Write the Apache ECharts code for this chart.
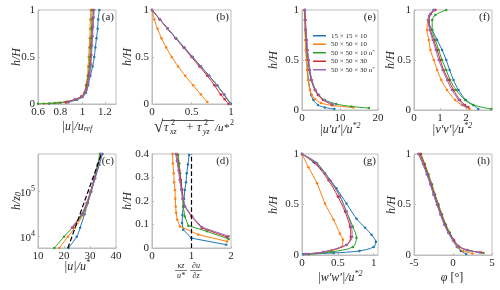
<!DOCTYPE html>
<html><head><meta charset="utf-8">
<script src="https://cdn.jsdelivr.net/npm/echarts@6/dist/echarts.min.js"></script>
<style>html,body{margin:0;padding:0;background:#fff}#c{width:500px;height:290px}</style>
</head><body><div id="c"></div>
<script>
const FONT = "'Liberation Serif', 'DejaVu Serif', serif";
const seriesNames = ['15 × 15 × 10', '50 × 50 × 10', '50 × 50 × 10 u*', '50 × 50 × 30', '50 × 50 × 30 u*'];
const seriesColors = ['#1f77b4', '#ff7f0e', '#2ca02c', '#d62728', '#9467bd'];

// (a) |u|/u_ref vs h/H  : [x, h]
const a_blue = [[0.7,0.004],[0.8,0.012],[0.88,0.025],[0.95,0.045],[1.0,0.075],[1.03,0.12],[1.05,0.2],[1.07,0.3],[1.09,0.4],[1.105,0.5],[1.115,0.6],[1.125,0.7],[1.135,0.8],[1.14,0.9],[1.15,1.0]];
const a_orange = [[0.65,0.004],[0.78,0.012],[0.87,0.025],[0.94,0.045],[0.99,0.075],[1.015,0.12],[1.03,0.2],[1.045,0.3],[1.05,0.4],[1.055,0.5],[1.06,0.6],[1.065,0.7],[1.068,0.8],[1.07,0.9],[1.073,1.0]];
const a_green = [[0.6,0.002],[0.75,0.01],[0.86,0.025],[0.94,0.045],[0.99,0.075],[1.02,0.12],[1.035,0.2],[1.05,0.3],[1.06,0.4],[1.065,0.5],[1.07,0.6],[1.075,0.7],[1.08,0.8],[1.083,0.9],[1.085,1.0]];
const a_red = [[0.85,0.017],[0.93,0.05],[0.99,0.083],[1.03,0.15],[1.045,0.22],[1.06,0.32],[1.07,0.42],[1.075,0.52],[1.08,0.62],[1.085,0.72],[1.09,0.82],[1.095,0.92],[1.097,1.0]];
const a_purple = [[0.87,0.017],[0.94,0.05],[1.0,0.083],[1.035,0.15],[1.05,0.22],[1.065,0.32],[1.075,0.42],[1.08,0.52],[1.085,0.62],[1.09,0.72],[1.095,0.82],[1.1,0.92],[1.105,1.0]];

// (b) total stress
const b_blue = [[1.0,0.0],[0.915,0.1],[0.825,0.2],[0.725,0.3],[0.62,0.4],[0.515,0.5],[0.41,0.6],[0.305,0.7],[0.2,0.8],[0.1,0.9],[0.0,1.0]];
const b_orange = [[0.70,0.02],[0.62,0.1],[0.52,0.2],[0.42,0.3],[0.33,0.4],[0.25,0.5],[0.18,0.6],[0.12,0.7],[0.07,0.8],[0.03,0.9],[0.0,1.0]];
const b_green = [[0.995,0.0],[0.912,0.1],[0.822,0.2],[0.722,0.3],[0.618,0.4],[0.513,0.5],[0.408,0.6],[0.303,0.7],[0.2,0.8],[0.1,0.9],[0.0,1.0]];
const b_red = [[0.97,0.0],[0.92,0.05],[0.87,0.1],[0.79,0.2],[0.7,0.3],[0.6,0.4],[0.5,0.5],[0.4,0.6],[0.3,0.7],[0.2,0.8],[0.1,0.9],[0.0,1.0]];
const b_purple = [[0.99,0.0],[0.91,0.1],[0.82,0.2],[0.72,0.3],[0.615,0.4],[0.51,0.5],[0.405,0.6],[0.3,0.7],[0.198,0.8],[0.098,0.9],[0.0,1.0]];

// (c) |u|/u* vs h/z0 (log)
const c_blue = [[21.7,5600],[24.9,10000],[26.2,15850],[27.9,31600],[29.2,56000],[30.5,100000],[32.0,200000],[33.6,400000],[34.8,690000]];
const c_orange = [[18.2,5600],[21.5,10000],[24.2,15850],[27.4,31600],[29.0,56000],[30.3,100000],[31.7,200000],[33.0,400000],[34.0,690000]];
const c_green = [[16.3,5600],[20.0,10000],[23.2,15850],[27.2,31600],[28.9,56000],[30.2,100000],[31.6,200000],[32.9,400000],[33.8,690000]];
const c_red = [[23.3,15850],[26.9,31600],[28.8,56000],[30.3,100000],[31.8,200000],[33.2,400000],[34.2,690000]];
const c_purple = [[23.0,15850],[26.7,31600],[28.7,56000],[30.2,100000],[31.8,200000],[33.2,400000],[34.3,690000]];
const c_logLaw = [[21.5,5600],[34.4,690000]];

// (d) kz/u* du/dz vs h/H
const d_blue = [[1.88,0.014],[1.0,0.042],[0.79,0.078],[0.76,0.106],[0.77,0.14],[0.79,0.177],[0.81,0.21],[0.83,0.247],[0.86,0.28],[0.88,0.318],[0.91,0.355],[0.94,0.396]];
const d_orange = [[1.9,0.028],[1.17,0.057],[0.71,0.092],[0.64,0.12],[0.61,0.15],[0.6,0.177],[0.59,0.21],[0.58,0.247],[0.56,0.28],[0.55,0.318],[0.53,0.36],[0.52,0.4]];
const d_green = [[1.94,0.038],[1.39,0.071],[0.92,0.095],[0.83,0.134],[0.79,0.177],[0.77,0.21],[0.75,0.247],[0.73,0.28],[0.71,0.318],[0.69,0.36],[0.66,0.396]];
const d_red = [[1.9,0.047],[1.26,0.085],[1.0,0.134],[0.83,0.177],[0.79,0.21],[0.76,0.25],[0.73,0.29],[0.69,0.33],[0.65,0.37],[0.62,0.4]];
const d_purple = [[1.94,0.05],[1.26,0.089],[1.02,0.134],[0.84,0.177],[0.78,0.21],[0.74,0.25],[0.7,0.29],[0.67,0.33],[0.63,0.37],[0.6,0.4]];
const d_unity = [[1,0],[1,0.4]];

// (e) |u'u'|/u*^2
const e_blue = [[8.5,0.01],[6,0.025],[4.2,0.05],[3.0,0.1],[2.4,0.15],[2.1,0.2],[1.7,0.3],[1.45,0.4],[1.25,0.5],[1.1,0.6],[0.95,0.7],[0.85,0.8],[0.75,0.9],[0.65,1.0]];
const e_orange = [[13.5,0.025],[8,0.045],[5,0.07],[3.4,0.11],[2.6,0.15],[2.1,0.2],[1.6,0.3],[1.35,0.4],[1.15,0.5],[1.0,0.6],[0.9,0.7],[0.8,0.8],[0.7,0.9],[0.6,1.0]];
const e_green = [[17.6,0.02],[13,0.035],[9,0.06],[6,0.1],[4.4,0.15],[3.4,0.2],[2.4,0.3],[1.9,0.4],[1.6,0.5],[1.35,0.6],[1.15,0.7],[1.0,0.8],[0.9,0.9],[0.8,1.0]];
const e_red = [[7.8,0.055],[5.5,0.1],[4.2,0.15],[3.4,0.2],[2.5,0.3],[2.0,0.4],[1.7,0.5],[1.4,0.6],[1.2,0.7],[1.0,0.8],[0.85,0.9],[0.7,1.0]];
const e_purple = [[8.2,0.055],[5.8,0.1],[4.5,0.15],[3.6,0.2],[2.6,0.3],[2.1,0.4],[1.75,0.5],[1.45,0.6],[1.25,0.7],[1.05,0.8],[0.9,0.9],[0.75,1.0]];

// (f) |v'v'|/u*^2
const f_blue = [[2.47,0.01],[2.28,0.05],[2.0,0.1],[1.71,0.2],[1.52,0.3],[1.37,0.4],[1.24,0.5],[1.08,0.6],[0.89,0.7],[0.7,0.8],[0.57,0.88],[0.58,0.94],[0.75,1.0]];
const f_orange = [[2.13,0.01],[1.84,0.05],[1.58,0.1],[1.27,0.2],[1.05,0.3],[0.89,0.4],[0.76,0.5],[0.63,0.6],[0.57,0.7],[0.5,0.8],[0.53,0.9],[0.62,0.96],[0.82,1.0]];
const f_green = [[2.97,0.01],[2.28,0.05],[1.96,0.1],[1.62,0.2],[1.39,0.3],[1.24,0.4],[1.08,0.5],[0.95,0.6],[0.82,0.7],[0.7,0.8],[0.7,0.9],[0.82,0.95],[1.24,1.0]];
const f_red = [[2.09,0.03],[1.96,0.05],[1.77,0.1],[1.52,0.2],[1.33,0.3],[1.14,0.4],[1.01,0.5],[0.89,0.6],[0.76,0.7],[0.63,0.8],[0.57,0.9],[0.65,0.96],[0.82,1.0]];
const f_purple = [[2.02,0.03],[1.9,0.05],[1.72,0.1],[1.46,0.2],[1.27,0.3],[1.1,0.4],[0.95,0.5],[0.84,0.6],[0.72,0.7],[0.6,0.8],[0.55,0.9],[0.62,0.96],[0.78,1.0]];

// (g) |w'w'|/u*^2
const g_blue = [[0.02,0.007],[0.44,0.02],[0.8,0.04],[1.0,0.08],[1.03,0.13],[0.97,0.2],[0.88,0.27],[0.76,0.36],[0.62,0.51],[0.48,0.66],[0.32,0.81],[0.16,0.92],[0.0,1.0]];
const g_orange = [[0.09,0.01],[0.39,0.04],[0.55,0.08],[0.57,0.15],[0.53,0.21],[0.44,0.35],[0.32,0.51],[0.21,0.71],[0.09,0.87],[0.0,1.0]];
const g_green = [[0.09,0.007],[0.41,0.03],[0.71,0.08],[0.76,0.17],[0.71,0.28],[0.62,0.43],[0.53,0.58],[0.39,0.74],[0.21,0.91],[0.0,1.0]];
const g_red = [[0.05,0.01],[0.3,0.03],[0.62,0.1],[0.68,0.18],[0.67,0.28],[0.6,0.43],[0.5,0.58],[0.37,0.74],[0.18,0.91],[0.0,1.0]];
const g_purple = [[0.05,0.01],[0.3,0.03],[0.62,0.1],[0.7,0.18],[0.69,0.28],[0.62,0.43],[0.53,0.58],[0.39,0.74],[0.2,0.91],[0.0,1.0]];

// (h) phi [deg]
const h_blue = [[1.7,0.01],[1.0,0.04],[0.5,0.08],[0.0,0.14],[-0.6,0.22],[-1.1,0.3],[-1.6,0.4],[-2.05,0.5],[-2.5,0.6],[-2.9,0.7],[-3.35,0.8],[-3.85,0.9],[-4.4,1.0]];
const h_orange = [[2.5,0.015],[1.3,0.04],[0.6,0.08],[0.05,0.14],[-0.5,0.22],[-1.0,0.3],[-1.5,0.4],[-1.95,0.5],[-2.4,0.6],[-2.8,0.7],[-3.25,0.8],[-3.75,0.9],[-4.3,1.0]];
const h_green = [[3.9,0.02],[2.0,0.045],[0.8,0.08],[0.15,0.14],[-0.4,0.22],[-0.9,0.3],[-1.4,0.4],[-1.85,0.5],[-2.3,0.6],[-2.7,0.7],[-3.15,0.8],[-3.6,0.9],[-4.1,1.0]];
const h_red = [[3.6,0.025],[1.8,0.05],[0.7,0.09],[0.1,0.15],[-0.5,0.22],[-1.0,0.3],[-1.5,0.4],[-1.95,0.5],[-2.4,0.6],[-2.8,0.7],[-3.25,0.8],[-3.7,0.9],[-4.2,1.0]];
const h_purple = [[3.4,0.025],[1.7,0.05],[0.6,0.09],[0.0,0.15],[-0.6,0.22],[-1.1,0.3],[-1.6,0.4],[-2.05,0.5],[-2.5,0.6],[-2.9,0.7],[-3.35,0.8],[-3.85,0.9],[-4.45,1.0]];

const panels = [
  {lab:'(a)', g:{left:38,top:10,width:78,height:94}, x:{min:0.6,max:1.3,interval:0.2,hideMax:true}, y:{min:0,max:1,interval:0.5}, d:[a_blue,a_orange,a_green,a_red,a_purple], smooth:0.3},
  {lab:'(b)', g:{left:152,top:10,width:79,height:94}, x:{min:0,max:1,interval:0.5}, y:{min:0,max:1,interval:0.5}, d:[b_blue,b_orange,b_green,b_red,b_purple], smooth:0.3},
  {lab:'(e)', g:{left:302,top:10,width:76,height:100}, x:{min:0,max:20,interval:10}, y:{min:0,max:1,interval:0.5}, d:[e_blue,e_orange,e_green,e_red,e_purple], smooth:0.3},
  {lab:'(f)', g:{left:414,top:10,width:78,height:100}, x:{min:0,max:3,interval:1,hideMax:true}, y:{min:0,max:1,interval:0.5}, d:[f_blue,f_orange,f_green,f_red,f_purple], smooth:0.3},
  {lab:'(c)', g:{left:38,top:154,width:78,height:94}, x:{min:10,max:40,interval:10}, y:{log:true,min:5600,max:690000}, d:[c_blue,c_orange,c_green,c_red,c_purple], smooth:0.3, extra:c_logLaw},
  {lab:'(d)', g:{left:152,top:154,width:79,height:94}, x:{min:0,max:2,interval:1}, y:{min:0,max:0.4,interval:0.1}, d:[d_blue,d_orange,d_green,d_red,d_purple], smooth:false, extra:d_unity},
  {lab:'(g)', g:{left:302,top:154,width:76,height:101}, x:{min:0,max:1.06,interval:0.5,hideMax:true}, y:{min:0,max:1,interval:0.5}, d:[g_blue,g_orange,g_green,g_red,g_purple], smooth:0.3},
  {lab:'(h)', g:{left:414,top:154,width:78,height:101}, x:{min:-5,max:5,interval:5}, y:{min:0,max:1,interval:0.5}, d:[h_blue,h_orange,h_green,h_red,h_purple], smooth:0.3}
];

const BOX = '#bdbdbd';
const TXT = '#262626';
const grids = [], xAxes = [], yAxes = [], series = [], graphics = [];

panels.forEach((p, i) => {
  grids.push(Object.assign({show:true, borderColor:BOX, borderWidth:1, containLabel:false}, p.g));
  xAxes.push({
    type:'value', gridIndex:i, min:p.x.min, max:p.x.max, interval:p.x.interval,
    axisLine:{show:true, onZero:false, lineStyle:{color:BOX}},
    axisTick:{show:true, inside:true, length:2, lineStyle:{color:BOX}},
    splitLine:{show:false},
    axisLabel:{fontFamily:FONT, fontSize:11, color:TXT, margin:3, showMaxLabel:!p.x.hideMax}
  });
  if (p.y.log) {
    yAxes.push({
      type:'log', logBase:10, gridIndex:i, min:p.y.min, max:p.y.max,
      axisLine:{show:true, lineStyle:{color:BOX}},
      axisTick:{show:true, inside:true, length:2, lineStyle:{color:BOX}},
      splitLine:{show:false}, minorTick:{show:false},
      axisLabel:{fontFamily:FONT, fontSize:11, color:TXT, margin:3, showMinLabel:false, showMaxLabel:false,
        formatter: v => '{b|10}{s|' + Math.round(Math.log10(v)) + '}',
        rich:{b:{fontFamily:FONT, fontSize:11, color:TXT, lineHeight:14, verticalAlign:'bottom'}, s:{fontFamily:FONT, fontSize:8, color:TXT, lineHeight:14, verticalAlign:'top'}}}
    });
  } else {
    yAxes.push({
      type:'value', gridIndex:i, min:p.y.min, max:p.y.max, interval:p.y.interval,
      axisLine:{show:true, onZero:false, lineStyle:{color:BOX}},
      axisTick:{show:true, inside:true, length:2, lineStyle:{color:BOX}},
      splitLine:{show:false},
      axisLabel:{fontFamily:FONT, fontSize:11, color:TXT, margin:3}
    });
  }
  p.d.forEach((arr, j) => {
    series.push({
      type:'line', name:seriesNames[j], xAxisIndex:i, yAxisIndex:i, data:arr,
      smooth:p.smooth, symbol:'circle', symbolSize:2.5, showSymbol:true,
      lineStyle:{width:1, color:seriesColors[j]}, itemStyle:{color:seriesColors[j]},
      emphasis:{disabled:true}, animation:false, z:2+j
    });
  });
  if (p.extra) {
    series.push({
      type:'line', name:'ref', xAxisIndex:i, yAxisIndex:i, data:p.extra, symbol:'none',
      lineStyle:{width:1.2, color:'#000', type:'dashed'}, emphasis:{disabled:true}, animation:false, z:10
    });
  }
  graphics.push({type:'text', x:p.g.left + p.g.width - 2, y:p.g.top + 7,
    style:{text:p.lab, fill:TXT, font:"11px 'Liberation Serif'", align:'right', verticalAlign:'middle'}});
});

const it = {fontFamily:FONT, fontStyle:'italic', fontSize:12, fill:TXT, color:TXT, lineHeight:14, verticalAlign:'bottom'};
const rm = {fontFamily:FONT, fontSize:12, fill:TXT, color:TXT, lineHeight:14, verticalAlign:'bottom'};
const sup = {fontFamily:FONT, fontStyle:'italic', fontSize:8, fill:TXT, color:TXT, lineHeight:14, verticalAlign:'top'};
const sub = {fontFamily:FONT, fontStyle:'italic', fontSize:8, fill:TXT, color:TXT, lineHeight:10, verticalAlign:'bottom'};
const richAll = {i:it, r:rm, s:sup, b:sub};

function label(text, x, y, rot) {
  graphics.push({type:'text', x:x, y:y, rotation: rot ? Math.PI/2 : 0,
    style:{text:text, rich:richAll, fill:TXT, font:"12px 'Liberation Serif'", align:'center', verticalAlign:'middle'}});
}
function txt(s, x, y, size, italic, align) {
  graphics.push({type:'text', x:x, y:y,
    style:{text:s, fill:TXT, font:(italic ? 'italic ' : '') + size + "px 'Liberation Serif'", align:align || 'left', verticalAlign:'middle'}});
}
// y titles
label('{i|h/H}', 16, 57, true);
label('{i|h/H}', 127, 57, true);
label('{i|h/H}', 273, 60, true);
label('{i|h/H}', 390, 60, true);
label('{i|h/z}{b|0}', 16, 201, true);
label('{i|h/H}', 127, 201, true);
label('{i|h/H}', 273, 205, true);
label('{i|h/H}', 391, 205, true);
// x titles
label('{i||u|/u}{b|ref}', 77, 126);
label('{i||u′u′|/u}{s|*2}', 340, 129);
label('{i||v′v′|/u}{s|*2}', 452, 129);
label('{i||u|/u}{s|*}', 77, 266);
label('{i||w′w′|/u}{s|*2}', 340, 277);
label('{i|φ}{r| [°]}', 452, 277);
// (b) sqrt title
txt('√', 154, 128, 17, false);
txt('τ', 164, 128, 12, true);
txt('2', 171, 123, 8, false);
txt('xz', 170, 132, 8, true);
txt('+', 190, 128, 12, false, 'center');
txt('τ', 197, 128, 12, true);
txt('2', 204, 123, 8, false);
txt('yz', 203, 132, 8, true);
txt('/u*', 215, 128, 11, true);
txt('2', 230, 123, 8, false);
graphics.push({type:'line', shape:{x1:162, y1:120.5, x2:214, y2:120.5}, style:{stroke:TXT, lineWidth:0.8}});
// (d) fraction title
function frac(num, den, cx) {
  txt(num, cx, 266, 8, true, 'center');
  graphics.push({type:'line', shape:{x1:cx-6, y1:270.5, x2:cx+6, y2:270.5}, style:{stroke:TXT, lineWidth:0.6}});
  txt(den, cx, 275.5, 8, true, 'center');
}
frac('κz', 'u*', 181);
frac('∂u', '∂z', 196);

const chart = echarts.init(document.getElementById('c'), null, {renderer:'canvas'});
chart.setOption({
  animation:false,
  color:seriesColors,
  textStyle:{fontFamily:FONT},
  grid:grids, xAxis:xAxes, yAxis:yAxes, series:series, graphic:graphics,
  legend:{
    data:seriesNames, left:308, top:27, orient:'vertical', icon:'rect', itemWidth:13, itemHeight:1.5, itemGap:1,
    selectedMode:false,
    formatter: n => n.replace(' u*', ' {i|u}{s|*}'),
    textStyle:{fontFamily:FONT, fontSize:7, color:TXT, lineHeight:7.5,
      rich:{i:{fontFamily:FONT, fontStyle:'italic', fontSize:7, color:TXT, lineHeight:7.5}, s:{fontFamily:FONT, fontSize:5, color:TXT, lineHeight:7.5, verticalAlign:'top'}}}
  }
});
</script></body></html>
